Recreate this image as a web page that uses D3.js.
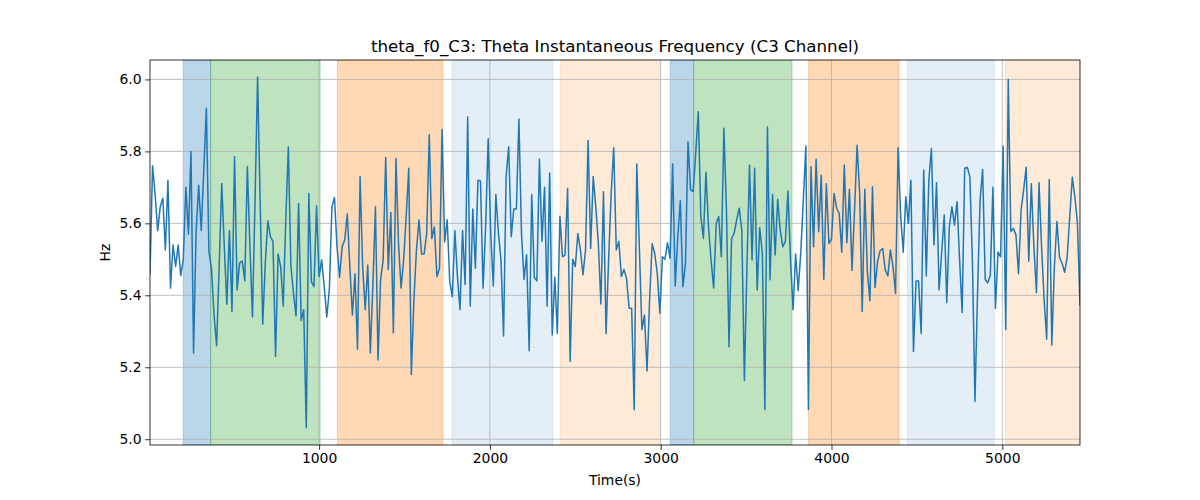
<!DOCTYPE html>
<html>
<head>
<meta charset="utf-8">
<script src="https://cdn.jsdelivr.net/npm/d3@7/dist/d3.min.js"></script>
<style>
  html, body { margin: 0; padding: 0; background: #fff; }
  svg { display: block; font-family: "DejaVu Sans", sans-serif; }
</style>
</head>
<body>
<svg id="chart" width="1200" height="500"></svg>
<script>
// ---- data ----
const title = "theta_f0_C3: Theta Instantaneous Frequency (C3 Channel)";
const xLabel = "Time(s)";
const yLabel = "Hz";
const tStart = 10;      // first sample time (s)
const tStep = 15;       // sampling interval (s)
const freqValues = [
  5.46, 5.76, 5.68, 5.58, 5.646, 5.67, 5.526, 5.72, 5.42, 5.54,
  5.48, 5.54, 5.455, 5.50, 5.70, 5.57, 5.80, 5.24, 5.577, 5.706,
  5.58, 5.75, 5.92, 5.52, 5.475, 5.345, 5.26, 5.48, 5.711, 5.535,
  5.375, 5.58, 5.355, 5.785, 5.415, 5.49, 5.495, 5.44, 5.757, 5.535,
  5.34, 5.665, 6.007, 5.66, 5.32, 5.49, 5.607, 5.563, 5.55, 5.23,
  5.515, 5.48, 5.37, 5.61, 5.813, 5.48, 5.405, 5.343, 5.655, 5.33,
  5.36, 5.032, 5.683, 5.438, 5.424, 5.648, 5.452, 5.498, 5.424, 5.34,
  5.415, 5.646, 5.672, 5.535, 5.45, 5.535, 5.554, 5.626, 5.48, 5.345,
  5.46, 5.25, 5.73, 5.48, 5.36, 5.484, 5.24, 5.43, 5.646, 5.22,
  5.443, 5.498, 5.783, 5.472, 5.63, 5.295, 5.78, 5.544, 5.42, 5.498,
  5.62, 5.753, 5.18, 5.387, 5.526, 5.61, 5.515, 5.515, 5.572, 5.846,
  5.558, 5.59, 5.452, 5.475, 5.861, 5.548, 5.61, 5.438, 5.396, 5.58,
  5.452, 5.36, 5.58, 5.43, 5.896, 5.37, 5.64, 5.475, 5.72, 5.718,
  5.42, 5.59, 5.835, 5.57, 5.426, 5.68, 5.572, 5.498, 5.287, 5.73,
  5.813, 5.563, 5.64, 5.64, 5.89, 5.572, 5.444, 5.513, 5.246, 5.68,
  5.45, 5.44, 5.778, 5.55, 5.70, 5.37, 5.74, 5.29, 5.45, 5.294,
  5.62, 5.507, 5.512, 5.697, 5.216, 5.50, 5.48, 5.572, 5.526, 5.457,
  5.526, 5.83, 5.53, 5.73, 5.646, 5.544, 5.376, 5.688, 5.293, 5.498,
  5.683, 5.81, 5.526, 5.55, 5.452, 5.472, 5.447, 5.364, 5.364, 5.082,
  5.765, 5.535, 5.305, 5.345, 5.19, 5.387, 5.543, 5.517, 5.461, 5.35,
  5.507, 5.50, 5.546, 5.503, 5.765, 5.426, 5.563, 5.663, 5.424, 5.489,
  5.827, 5.693, 5.688, 5.794, 5.91, 5.619, 5.558, 5.742, 5.59, 5.498,
  5.42, 5.60, 5.619, 5.507, 5.864, 5.637, 5.257, 5.558, 5.572, 5.61,
  5.642, 5.58, 5.163, 5.48, 5.762, 5.498, 5.753, 5.415, 5.588, 5.517,
  5.083, 5.868, 5.443, 5.68, 5.512, 5.667, 5.58, 5.535, 5.55, 5.69,
  5.498, 5.36, 5.515, 5.413, 5.517, 5.665, 5.815, 5.083, 5.757, 5.535,
  5.778, 5.577, 5.734, 5.444, 5.71, 5.544, 5.556, 5.683, 5.642, 5.628,
  5.52, 5.762, 5.546, 5.695, 5.469, 5.637, 5.817, 5.683, 5.355, 5.695,
  5.466, 5.385, 5.702, 5.422, 5.494, 5.524, 5.53, 5.47, 5.454, 5.526,
  5.48, 5.405, 5.81, 5.62, 5.52, 5.674, 5.60, 5.72, 5.244, 5.44,
  5.44, 5.294, 5.748, 5.454, 5.72, 5.808, 5.54, 5.713, 5.415, 5.517,
  5.623, 5.38, 5.59, 5.646, 5.595, 5.66, 5.498, 5.352, 5.753, 5.756,
  5.73, 5.498, 5.105, 5.405, 5.665, 5.75, 5.444, 5.435, 5.456, 5.70,
  5.364, 5.52, 5.507, 5.815, 5.304, 6.0, 5.577, 5.586, 5.568, 5.46,
  5.637, 5.693, 5.756, 5.495, 5.71, 5.535, 5.407, 5.713, 5.535, 5.387,
  5.278, 5.722, 5.262, 5.48, 5.605, 5.505, 5.489, 5.464, 5.507, 5.619,
  5.728, 5.674, 5.60, 5.373
];
// shaded stage intervals [start, end] in seconds and their colour keys
const spanStarts = [205, 365, 1107, 1779, 2412, 3056, 3193, 3865, 4445, 5019];
const spanEnds   = [365, 1006, 1725, 2369, 2995, 3193, 3769, 4396, 4953, 5455];
const spanKinds  = ["blue", "green", "orange", "lightblue", "lightorange",
                    "blue", "green", "orange", "lightblue", "lightorange"];
const xTicks = [1000, 2000, 3000, 4000, 5000];
const yTicks = [5.0, 5.2, 5.4, 5.6, 5.8, 6.0];

// ---- styles ----
const spanStyle = {
  blue:        { color: "#1f77b4", alpha: 0.3 },
  green:       { color: "#2ca02c", alpha: 0.3 },
  orange:      { color: "#ff7f0e", alpha: 0.3 },
  lightblue:   { color: "#1f77b4", alpha: 0.12 },
  lightorange: { color: "#ff7f0e", alpha: 0.16 }
};

const svg = d3.select("#chart");
const L = 150, R = 1080, T = 60, B = 445;

const data = freqValues.map((v, i) => ({ t: tStart + i * tStep, v }));
const x = d3.scaleLinear().domain([data[0].t, data[data.length - 1].t]).range([L, R]);
const y = d3.scaleLinear().domain([4.984, 6.054]).range([B, T]);

svg.append("defs").append("clipPath").attr("id", "clip")
  .append("rect").attr("x", L).attr("y", T).attr("width", R - L).attr("height", B - T);

const plot = svg.append("g").attr("clip-path", "url(#clip)");

// spans
plot.selectAll("rect.span")
  .data(spanStarts.map((s, i) => ({ s, e: spanEnds[i], k: spanKinds[i] })))
  .join("rect")
  .attr("class", "span")
  .attr("x", d => x(d.s))
  .attr("width", d => x(d.e) - x(d.s))
  .attr("y", T)
  .attr("height", B - T)
  .attr("fill", d => spanStyle[d.k].color)
  .attr("fill-opacity", d => spanStyle[d.k].alpha)
  .attr("stroke", d => spanStyle[d.k].color)
  .attr("stroke-opacity", d => spanStyle[d.k].alpha)
  .attr("stroke-width", 1);

// grid
const grid = plot.append("g");
grid.selectAll("line.gx").data(xTicks).join("line")
  .attr("x1", d => x(d)).attr("x2", d => x(d))
  .attr("y1", T).attr("y2", B)
  .attr("stroke", "#b0b0b0").attr("stroke-width", 0.8);
grid.selectAll("line.gy").data(yTicks).join("line")
  .attr("x1", L).attr("x2", R)
  .attr("y1", d => y(d)).attr("y2", d => y(d))
  .attr("stroke", "#b0b0b0").attr("stroke-width", 0.8);

// line
plot.append("path")
  .datum(data)
  .attr("fill", "none")
  .attr("stroke", "#1f77b4")
  .attr("stroke-width", 1.5)
  .attr("stroke-linejoin", "round")
  .attr("stroke-linecap", "square")
  .attr("d", d3.line().x(d => x(d.t)).y(d => y(d.v)));

// axes
const xAxis = d3.axisBottom(x).tickValues(xTicks).tickFormat(d3.format("d"))
  .tickSizeInner(4.9).tickSizeOuter(0).tickPadding(3.5);
const yAxis = d3.axisLeft(y).tickValues(yTicks).tickFormat(d3.format(".1f"))
  .tickSizeInner(4.9).tickSizeOuter(0).tickPadding(3.5);

const gx = svg.append("g").attr("transform", `translate(0,${B})`).call(xAxis);
const gy = svg.append("g").attr("transform", `translate(${L},0)`).call(yAxis);
[gx, gy].forEach(g => {
  g.select(".domain").remove();
  g.selectAll(".tick line").attr("stroke", "#000").attr("stroke-width", 0.8);
  g.selectAll(".tick text").attr("fill", "#000")
    .style("font-family", "DejaVu Sans, sans-serif").style("font-size", "13.9px");
});

// spines
svg.append("rect").attr("x", L).attr("y", T).attr("width", R - L).attr("height", B - T)
  .attr("fill", "none").attr("stroke", "#000").attr("stroke-width", 0.8);

// labels
svg.append("text").attr("x", (L + R) / 2).attr("y", 51.5)
  .attr("text-anchor", "middle").style("font-size", "16.7px").attr("fill", "#000")
  .text(title);
svg.append("text").attr("x", (L + R) / 2).attr("y", 485)
  .attr("text-anchor", "middle").style("font-size", "13.9px").attr("fill", "#000")
  .text(xLabel);
svg.append("text")
  .attr("transform", `translate(110,${(T + B) / 2}) rotate(-90)`)
  .attr("text-anchor", "middle").style("font-size", "13.9px").attr("fill", "#000")
  .text(yLabel);
</script>
</body>
</html>
